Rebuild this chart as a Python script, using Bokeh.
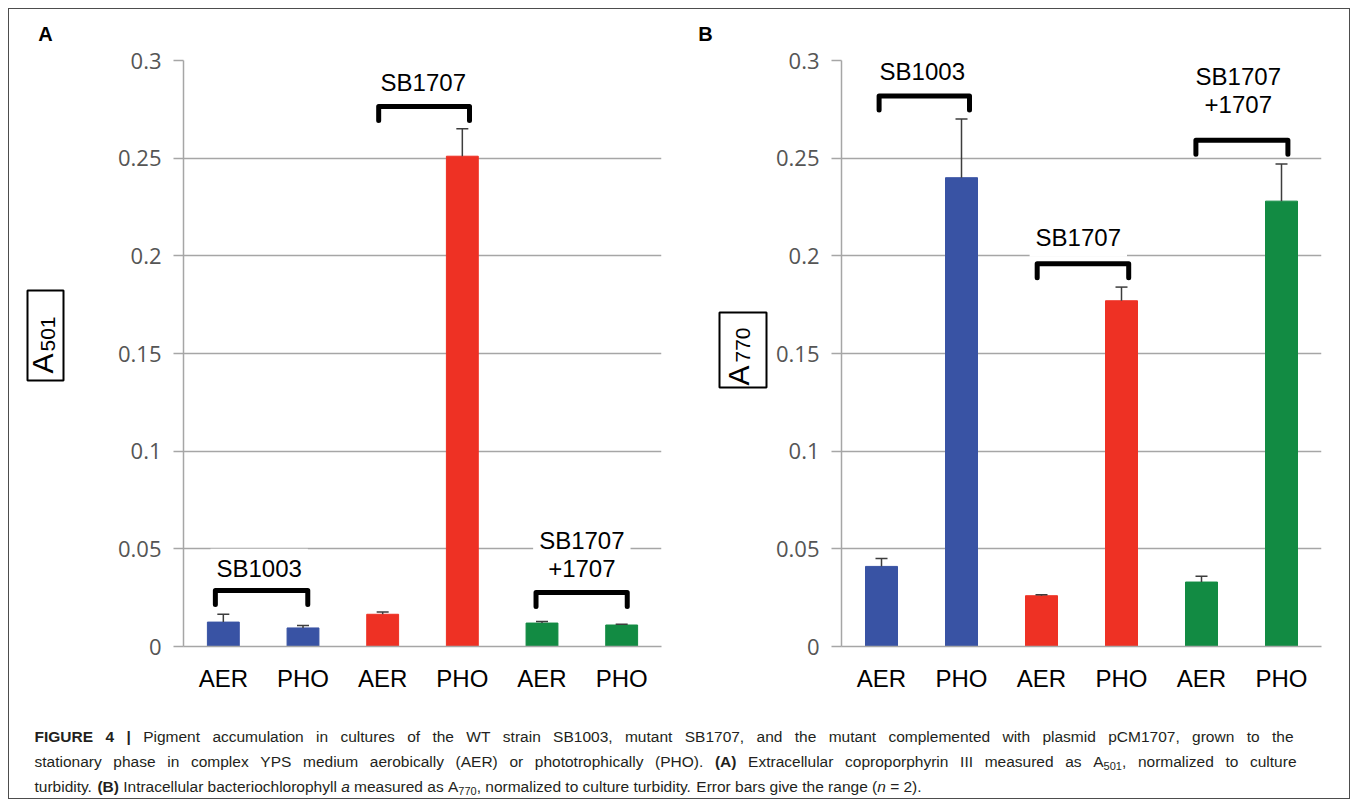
import numpy as np
from bokeh.plotting import figure
from bokeh.models import ColumnDataSource, Whisker, TeeHead, Label, FixedTicker, Range1d
from bokeh.layouts import column, row
from bokeh.embed import file_html
from bokeh.resources import INLINE
from bokeh.core.properties import value

# ---------------- data ----------------
conditions = ["AER", "PHO", "AER", "PHO", "AER", "PHO"]
strain_groups = [["SB1003"], ["SB1707"], ["SB1707", "+1707"]]
a501 = [0.0125, 0.0095, 0.0165, 0.251, 0.012, 0.011]
a501_err = [0.004, 0.0012, 0.0012, 0.014, 0.0008, 0.0004]
a770 = [0.041, 0.240, 0.026, 0.177, 0.033, 0.228]
a770_err = [0.004, 0.030, 0.0005, 0.007, 0.003, 0.019]
bar_colors = ["#3953a4", "#3953a4", "#ee3124", "#ee3124", "#128b43", "#128b43"]
y_ticks = [0, 0.05, 0.1, 0.15, 0.2, 0.25, 0.3]
y_tick_labels = ["0", "0.05", "0.1", "0.15", "0.2", "0.25", "0.3"]

# ---------------- layout helpers (positions only) ----------------
brackets_A = [(-0.10, 0.06, 0.0287), (-0.05, 0.09, 0.2765), (-0.075, 0.07, 0.0277)]
brackets_B = [(-0.03, 0.10, 0.2818), (-0.054, 0.09, 0.196), (-0.07, 0.08, 0.2592)]
labels_A = [(-0.05, [0.040]), (0.01, [0.2888]), (0.0, [0.0543, 0.040])]
labels_B = [(0.01, [0.2942]), (-0.04, [0.2095]), (-0.04, [0.292, 0.2775])]

AXIS_GRAY = "#a6a6a6"
TICK_FONT = "Open Sans"
TEXT_FONT = "Liberation Sans"
HEAD_H = 35
ROW_H = 662
TOP_B = 16
BOT_B = 60


def pixel_fig(width, height, y_top, y_bottom, **kw):
    f = figure(width=width, height=height, x_range=Range1d(0, width), y_range=Range1d(y_bottom, y_top),
               output_backend="svg", toolbar_location=None, x_axis_type=None, y_axis_type=None,
               min_border_left=0, min_border_right=0, **kw)
    f.grid.visible = False
    f.outline_line_color = None
    return f


def make_panel(vals, errs, width, bl, br, brackets, labels):
    p = figure(width=width, height=ROW_H, x_range=Range1d(-0.5, 5.5), y_range=Range1d(0, 0.3),
               output_backend="svg", toolbar_location=None,
               min_border_left=bl, min_border_right=br, min_border_top=TOP_B, min_border_bottom=BOT_B)
    p.outline_line_color = None

    xs = list(range(len(vals)))
    src = ColumnDataSource(dict(x=xs, v=vals, up=[v + e for v, e in zip(vals, errs)], color=bar_colors))

    p.xgrid.visible = False
    p.ygrid.ticker = FixedTicker(ticks=y_ticks)
    p.ygrid.grid_line_color = AXIS_GRAY
    p.ygrid.grid_line_width = 1.5

    w = Whisker(source=src, base="x", upper="up", lower="v", line_color="#3d3d3d", line_width=1.5,
                upper_head=TeeHead(size=12, line_color="#3d3d3d", line_width=1.5), lower_head=None,
                level="glyph")
    p.add_layout(w)
    p.vbar(x="x", top="v", width=0.4, color="color", source=src)

    p.xaxis.ticker = FixedTicker(ticks=xs)
    p.xaxis.major_label_overrides = {i: c for i, c in enumerate(conditions)}
    p.xaxis.major_tick_line_color = None
    p.xaxis.minor_tick_line_color = None
    p.xaxis.axis_line_color = AXIS_GRAY
    p.xaxis.axis_line_width = 1.5
    p.xaxis.major_label_text_font = TEXT_FONT
    p.xaxis.major_label_text_font_size = "24px"
    p.xaxis.major_label_text_color = "black"
    p.xaxis.major_label_standoff = 12

    p.yaxis.ticker = FixedTicker(ticks=y_ticks)
    p.yaxis.major_label_overrides = {t: s for t, s in zip(y_ticks, y_tick_labels)}
    p.yaxis.major_tick_out = 10
    p.yaxis.major_tick_in = 0
    p.yaxis.major_tick_line_color = AXIS_GRAY
    p.yaxis.major_tick_line_width = 1.5
    p.yaxis.minor_tick_line_color = None
    p.yaxis.axis_line_color = AXIS_GRAY
    p.yaxis.axis_line_width = 1.5
    p.yaxis.major_label_text_font = TICK_FONT
    p.yaxis.major_label_text_font_size = "22px"
    p.yaxis.major_label_text_color = "#555555"
    p.yaxis.major_label_standoff = 12

    drop = 0.0072
    bx, by = [], []
    for g, (dl, dr, h) in enumerate(brackets):
        a, b = 2 * g + dl, 2 * g + 1 + dr
        bx.append([a, a, b, b])
        by.append([h - drop, h, h, h - drop])
    p.multi_line(bx, by, line_width=5, line_color="black", line_join="round", line_cap="round")

    for g, (dx, ys) in enumerate(labels):
        for txt, yy in zip(strain_groups[g], ys):
            p.add_layout(Label(x=2 * g + 0.5 + dx, y=yy, text=txt, text_align="center",
                               text_baseline="middle", text_font=TEXT_FONT,
                               text_font_size="24px", text_color="black",
                               background_fill_color="white", padding=6))
    return p


# strips hold the boxed y-axis titles; their y data are page pixels (frame = 60..646)
def make_strip(width, box, main_txt, main_anchor, sub_txt, sub_anchor):
    s = pixel_fig(width, ROW_H, 60, 646, min_border_top=TOP_B, min_border_bottom=BOT_B)
    s.rect(x=[box[0]], y=[box[1]], width=[box[2]], height=[box[3]], fill_color="white",
           line_color="black", line_width=2)
    s.text(x=[main_anchor[0]], y=[main_anchor[1]], text=[main_txt], angle=np.pi / 2,
           text_font=value(TEXT_FONT), text_font_size="30px", text_color="black",
           text_align="left", text_baseline="middle")
    s.text(x=[sub_anchor[0]], y=[sub_anchor[1]], text=[sub_txt], angle=np.pi / 2,
           text_font=value(TEXT_FONT), text_font_size="21px", text_color="black",
           text_align="left", text_baseline="middle")
    return s


sA = make_strip(91, (36, 335, 36, 90), "A", (33, 373), "501", (38, 351))
pA = make_panel(a501, a501_err, 581, 83, 20, brackets_A, labels_A)
sB = make_strip(89, (61.5, 349.5, 47, 75), "A", (56.5, 385), "770", (61.5, 362))
pB = make_panel(a770, a770_err, 579, 71, 28, brackets_B, labels_B)

# header with the panel letters
head = pixel_fig(1340, HEAD_H, 0, HEAD_H, min_border_top=0, min_border_bottom=0)
head.text(x=[36, 696], y=[24, 24], text=["A", "B"], text_font=value(TEXT_FONT),
          text_font_style="bold", text_font_size="20px", text_color="black",
          text_align="center", text_baseline="middle")

# ---------------- caption ----------------
CAP_W, CAP_H = 1340, 92
cap = pixel_fig(CAP_W, CAP_H, 0, CAP_H, min_border_top=0, min_border_bottom=0)

caption_lines = [
    ([("FIGURE 4 |", "bold", False),
      ("Pigment accumulation in cultures of the WT strain SB1003, mutant SB1707, and the mutant "
       "complemented with plasmid pCM1707, grown to the", "normal", True)], True),
    ([("stationary phase in complex YPS medium aerobically (AER) or phototrophically (PHO).", "normal", False),
      ("(A)", "bold", True),
      ("Extracellular coproporphyrin III measured as A", "normal", True),
      ("501", "sub", False),
      (", normalized to culture", "normal", False)], True),
    ([("turbidity.", "normal", False),
      ("(B)", "bold", True),
      ("Intracellular bacteriochlorophyll", "normal", True),
      ("a", "italic", True),
      ("measured as A", "normal", True),
      ("770", "sub", False),
      (", normalized to culture turbidity. Error bars give the range (", "normal", False),
      ("n", "italic", False),
      ("= 2).", "normal", True)], False),
]

# Arial-compatible advance widths (per 1000 em) for Liberation Sans
REG = {" ": 278, "!": 278, "(": 333, ")": 333, ",": 278, "-": 333, ".": 278, "|": 260, "=": 584,
       "+": 584}
for ch in "0123456789":
    REG[ch] = 556
REG.update(dict(A=667, B=667, C=722, D=722, E=667, F=611, G=778, H=722, I=278, J=500, K=667,
                L=556, M=833, N=722, O=778, P=667, Q=778, R=722, S=667, T=611, U=722, V=667,
                W=944, X=667, Y=667, Z=611))
REG.update(dict(a=556, b=556, c=500, d=556, e=556, f=278, g=556, h=556, i=222, j=222, k=500,
                l=222, m=833, n=556, o=556, p=556, q=556, r=333, s=500, t=278, u=556, v=500,
                w=722, x=500, y=500, z=500))
BOLD = dict(REG)
BOLD.update({"(": 333, ")": 333, "|": 280, "A": 722, "B": 722, "F": 611, "I": 278, "G": 778,
             "U": 722, "R": 722, "E": 667, "4": 556})

CAP_SIZE = 15.5
SUB_SIZE = 11.0
LEFT = 25.0
RIGHT = [1284.0, 1287.0, None]
MID = [30.0, 55.0, 80.0]


def tw(txt, style):
    table = BOLD if style == "bold" else REG
    size = SUB_SIZE if style == "sub" else CAP_SIZE
    return sum(table.get(c, 556) for c in txt) / 1000.0 * size


buckets = {}
for li, (segs, justify) in enumerate(caption_lines):
    toks = []
    for txt, style, sp in segs:
        words = txt.split(" ")
        for wi, wd in enumerate(words):
            toks.append((wd, style, sp if wi == 0 else True))
    space = REG[" "] / 1000.0 * CAP_SIZE
    natural = LEFT + sum(tw(t, s) + (space if sp else 0) for t, s, sp in toks)
    nsp = sum(1 for t, s, sp in toks if sp)
    extra = (RIGHT[li] - natural) / nsp if (justify and nsp) else 0.0
    xc = LEFT
    for t, s, sp in toks:
        if sp:
            xc += space + extra
        yb = MID[li] + (4.0 if s == "sub" else 0.0)
        buckets.setdefault(s, ([], [], []))
        buckets[s][0].append(xc)
        buckets[s][1].append(yb)
        buckets[s][2].append(t)
        xc += tw(t, s)

for s, (bx_, by_, bt_) in buckets.items():
    cap.text(x=bx_, y=by_, text=bt_, text_font=value(TEXT_FONT),
             text_font_size=f"{SUB_SIZE if s == 'sub' else CAP_SIZE}px",
             text_font_style=("normal" if s == "sub" else s), text_color="#231f20",
             text_baseline="middle", text_align="left")

layout = column(head, row(sA, pA, sB, pB), cap, margin=(8, 0, 0, 8),
                styles={"border": "1px solid #4d4d4d"})

open("out.html", "w").write(file_html(layout, INLINE))
